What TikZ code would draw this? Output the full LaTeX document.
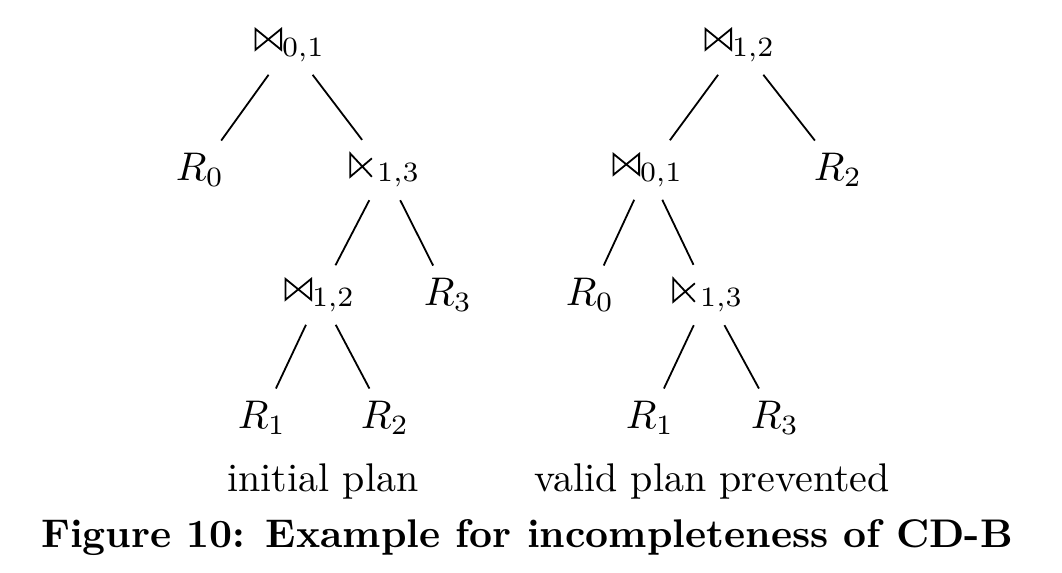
\documentclass[tikz,border=0pt]{standalone}
\usepackage{amssymb}
\newcommand{\jn}{\mathord{\tikz[baseline=0pt,line width=0.45pt,line join=miter]
  \draw (0pt,0.2pt)--(0pt,5.4pt)--(6.4pt,0.2pt)--(6.4pt,5.4pt)--cycle;}}
\newcommand{\sj}{\mathord{\tikz[baseline=0pt,line width=0.45pt,line join=miter]
  \draw (5.4pt,4.4pt)--(0pt,-0.2pt)--(0pt,5.6pt)--(5.4pt,-0.2pt);\mkern2mu}}
\begin{document}
\begin{tikzpicture}[x=0.25pt,y=-0.25pt,
  op/.style={inner sep=3pt},
  edge/.style={line width=0.45pt}]
\useasboundingbox (0,0) rectangle (1062,572);
% left tree
\node[op] (la) at (290,45) {$\jn_{0,1}$};
\node[op] (lr0) at (200,170) {$R_0$};
\node[op] (lb) at (385,170) {$\sj_{1,3}$};
\node[op] (lc) at (320,295) {$\jn_{1,2}$};
\node[op] (lr3) at (448,295) {$R_3$};
\node[op] (lr1) at (262,418) {$R_1$};
\node[op] (lr2) at (385,418) {$R_2$};
\draw[edge] (la) -- (lr0);
\draw[edge] (la) -- (lb);
\draw[edge] (lb) -- (lc);
\draw[edge] (lb) -- (lr3);
\draw[edge] (lc) -- (lr1);
\draw[edge] (lc) -- (lr2);
\node (lcap) at (323,481) {initial plan};
% right tree
\node[op] (ra) at (740,45) {$\jn_{1,2}$};
\node[op] (rb) at (648,170) {$\jn_{0,1}$};
\node[op] (rr2) at (838,170) {$R_2$};
\node[op] (rr0) at (590,295) {$R_0$};
\node[op] (rc) at (708,295) {$\sj_{1,3}$};
\node[op] (rr1) at (650,418) {$R_1$};
\node[op] (rr3) at (775,418) {$R_3$};
\draw[edge] (ra) -- (rb);
\draw[edge] (ra) -- (rr2);
\draw[edge] (rb) -- (rr0);
\draw[edge] (rb) -- (rc);
\draw[edge] (rc) -- (rr1);
\draw[edge] (rc) -- (rr3);
\node (rcap) at (712,481) {valid plan prevented};
\node[font=\bfseries] (cap) at (527,538) {Figure 10: Example for incompleteness of CD-B};
\end{tikzpicture}
\end{document}
